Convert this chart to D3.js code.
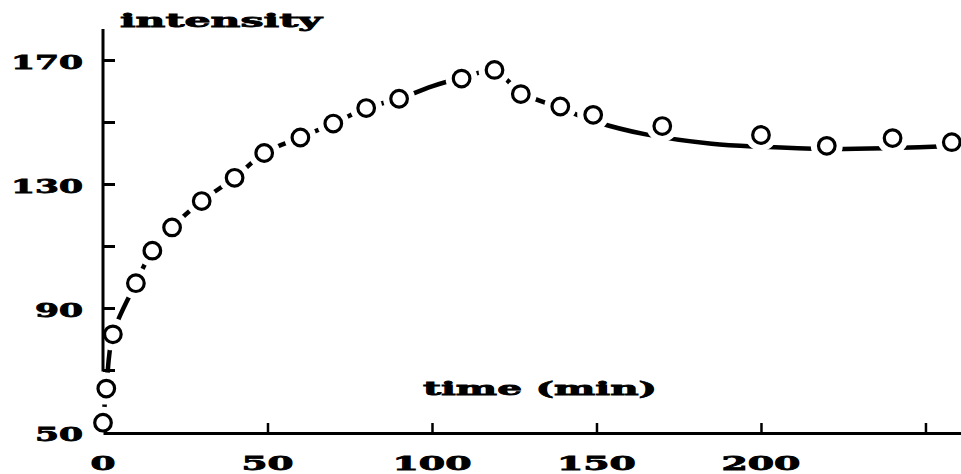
<!DOCTYPE html>
<html>
<head>
<meta charset="utf-8">
<script src="https://d3js.org/d3.v7.min.js"></script>
<style>
  body { margin: 0; background: #fff; }
  text { font-family: "DejaVu Serif", serif; font-weight: bold; fill: #000; stroke: #000; stroke-width: 0.8; }
</style>
</head>
<body>
<svg id="chart" width="961" height="474"></svg>
<script>
// measured points (open circles)
var times = [0, 1, 3, 10, 15, 21, 30, 40, 49, 60, 70, 80, 90, 109, 119, 127, 139, 149, 170, 200, 220, 240, 258];
var intensity = [53, 64, 81.5, 98, 108.5, 116, 124.5, 132, 140, 145, 149.5, 154.5, 157.5, 164, 166.8, 159, 155, 152.3, 148.7, 145.8, 142.3, 144.8, 143.5];

// hand-drawn dashed trend curve
var fitTimes = [0, 1, 3, 10, 15, 21, 30, 40, 49, 60, 70, 80, 90, 100, 110, 119, 127, 139, 150, 165, 185, 200, 220, 240, 260];
var fitValues = [53, 64, 81.5, 98, 108.5, 116, 124.5, 132, 140, 145, 149.5, 154.5, 157.5, 161.5, 164.5, 166.5, 159.5, 154.5, 150, 146, 143, 142, 141.3, 141.6, 142.3];

var yTicks = [70, 90, 110, 130, 150, 170];
var yLabels = [50, 90, 130, 170];
var xTicks = [50, 100, 150, 200, 250];
var xLabels = [0, 50, 100, 150, 200];

var svg = d3.select('#chart');

var x = d3.scaleLinear().domain([0, 260.8]).range([103, 961]);
var y = d3.scaleLinear().domain([50, 180]).range([432, 29]);

// trend line
var line = d3.line()
  .x(function(d) { return x(d[0]); })
  .y(function(d) { return y(d[1]); })
  .curve(d3.curveCatmullRom.alpha(0.5));

svg.append('path')
  .datum(fitTimes.map(function(t, i) { return [t, fitValues[i]]; }))
  .attr('d', line)
  .attr('fill', 'none')
  .attr('stroke', '#000')
  .attr('stroke-width', 4.5);

// white gaps around each circle so the curve breaks into dashes
svg.selectAll('.halo')
  .data(times)
  .enter()
  .append('circle')
    .attr('class', 'halo')
    .attr('cx', function(d) { return x(d); })
    .attr('cy', function(d, i) { return y(intensity[i]); })
    .attr('r', 16)
    .attr('fill', '#fff');

// y axis: ticks point inward, line stops at 70
var yAxis = d3.axisLeft(y).tickValues(yTicks).tickSizeInner(-12).tickSizeOuter(0).tickFormat('');
var gy = svg.append('g').attr('transform', 'translate(103,0)').call(yAxis);
gy.select('.domain').remove();
gy.selectAll('line').attr('stroke-width', 3);
svg.append('line')
  .attr('x1', 103).attr('x2', 103)
  .attr('y1', y(180)).attr('y2', y(70) + 1.5)
  .attr('stroke', '#000').attr('stroke-width', 3);

// x axis
var xAxis = d3.axisBottom(x).tickValues(xTicks).tickSizeInner(-10).tickSizeOuter(0).tickFormat('');
var gx = svg.append('g').attr('transform', 'translate(0,433)').call(xAxis);
gx.select('.domain').attr('stroke-width', 3);
gx.selectAll('line').attr('stroke-width', 2.5);

// tick labels
svg.selectAll('.ylab')
  .data(yLabels)
  .enter()
  .append('text')
    .attr('class', 'ylab')
    .attr('x', function(d) { return 83 - String(d).length * 24; })
    .attr('y', function(d) { return y(d) + 9; })
    .attr('font-size', 19)
    .attr('textLength', function(d) { return String(d).length * 24; })
    .attr('lengthAdjust', 'spacingAndGlyphs')
    .text(function(d) { return d; });

svg.selectAll('.xlab')
  .data(xLabels)
  .enter()
  .append('text')
    .attr('class', 'xlab')
    .attr('x', function(d) { return x(d) - (String(d).length * 27 - 2) / 2; })
    .attr('y', 470)
    .attr('font-size', 19)
    .attr('textLength', function(d) { return String(d).length * 27 - 2; })
    .attr('lengthAdjust', 'spacingAndGlyphs')
    .text(function(d) { return d; });

// axis titles
svg.append('text')
  .attr('x', 120).attr('y', 27)
  .attr('font-size', 19)
  .attr('textLength', 202)
  .attr('lengthAdjust', 'spacingAndGlyphs')
  .text('intensity');

svg.append('text')
  .attr('x', 423).attr('y', 395)
  .attr('font-size', 19)
  .attr('textLength', 234)
  .attr('lengthAdjust', 'spacingAndGlyphs')
  .text('time (min)');

// open circles
svg.selectAll('.pt')
  .data(times)
  .enter()
  .append('circle')
    .attr('class', 'pt')
    .attr('cx', function(d) { return x(d); })
    .attr('cy', function(d, i) { return y(intensity[i]); })
    .attr('r', 8.3)
    .attr('fill', '#fff')
    .attr('stroke', '#000')
    .attr('stroke-width', 3.2);
</script>
</body>
</html>
